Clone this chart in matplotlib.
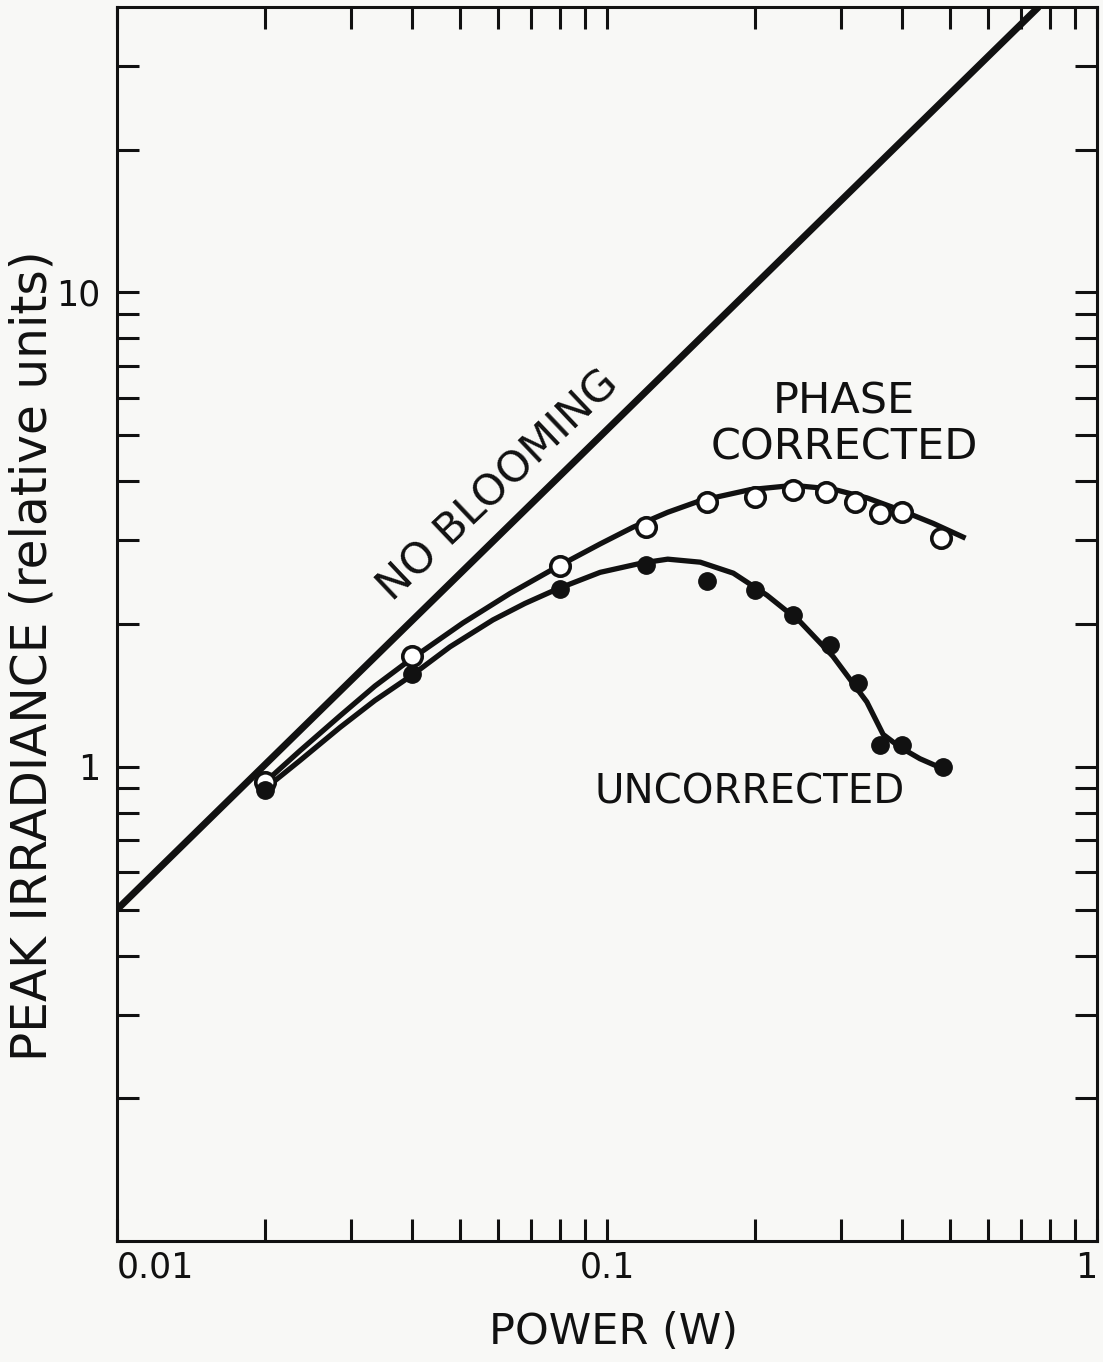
import numpy as np
import matplotlib.pyplot as plt
from matplotlib.ticker import FixedLocator, FixedFormatter, NullFormatter

plt.rcParams['font.family'] = ['DejaVu Sans']

ink = "#111111"
paper = "#f8f8f6"

# measured points (power in W, peak irradiance in relative units)
corr_power = [0.02, 0.04, 0.08, 0.12, 0.16, 0.20, 0.24, 0.28, 0.32, 0.36, 0.40, 0.48]
corr_irr = [0.93, 1.71, 2.65, 3.20, 3.61, 3.71, 3.83, 3.80, 3.62, 3.43, 3.45, 3.03]

uncorr_power = [0.02, 0.04, 0.08, 0.12, 0.16, 0.20, 0.24, 0.285, 0.325, 0.36, 0.40, 0.485]
uncorr_irr = [0.895, 1.57, 2.37, 2.66, 2.46, 2.36, 2.09, 1.81, 1.50, 1.11, 1.11, 1.00]

# hand drawn fit curves
corr_curve_power = [0.0198, 0.0236, 0.0285, 0.0336, 0.0396, 0.0508, 0.0634, 0.0791, 0.0968,
                    0.113, 0.133, 0.155, 0.196, 0.240, 0.289, 0.339, 0.396, 0.463, 0.533]
corr_curve_irr = [0.917, 1.08, 1.28, 1.48, 1.68, 2.01, 2.32, 2.64, 2.95,
                  3.20, 3.44, 3.64, 3.84, 3.92, 3.85, 3.69, 3.48, 3.26, 3.05]

uncorr_curve_power = [0.0198, 0.0236, 0.0285, 0.0336, 0.0400, 0.0478, 0.0585, 0.0680, 0.0791,
                      0.0968, 0.118, 0.133, 0.155, 0.181, 0.212, 0.248, 0.289, 0.339, 0.366,
                      0.396, 0.435, 0.485]
uncorr_curve_irr = [0.890, 1.03, 1.21, 1.38, 1.56, 1.79, 2.04, 2.21, 2.37,
                    2.57, 2.69, 2.74, 2.70, 2.56, 2.30, 2.02, 1.71, 1.37, 1.17,
                    1.10, 1.04, 0.99]

# no blooming reference line
nb_power = [0.01, 0.76]
nb_irr = [0.5, 40]

x_ticks = [0.01, 0.1, 1]
x_labels = ["0.01", "0.1", "1"]
y_ticks = [1, 10]
y_labels = ["1", "10"]

fig = plt.figure(figsize=(11.03, 13.62), dpi=100, facecolor=paper)
ax = fig.add_axes([0.1061, 0.0888, 0.8885, 0.9061], facecolor=paper)

ax.plot(nb_power, nb_irr, color=ink, lw=5, solid_capstyle="butt")
ax.plot(corr_curve_power, corr_curve_irr, color=ink, lw=3.8, solid_joinstyle="round")
ax.plot(uncorr_curve_power, uncorr_curve_irr, color=ink, lw=3.8, solid_joinstyle="round")
ax.plot(corr_power, corr_irr, "o", ms=14, mfc="white", mec=ink, mew=2.6, zorder=3)
ax.plot(uncorr_power, uncorr_irr, "o", ms=12.5, mfc=ink, mec=ink, zorder=4)

ax.set_xscale("log")
ax.set_yscale("log")
ax.set_xlim(0.01, 1)
ax.set_ylim(0.1, 40)

ax.xaxis.set_major_locator(FixedLocator(x_ticks))
ax.xaxis.set_major_formatter(FixedFormatter(x_labels))
ax.yaxis.set_major_locator(FixedLocator(y_ticks))
ax.yaxis.set_major_formatter(FixedFormatter(y_labels))
x_minor = [m * d for d in [0.01, 0.1] for m in range(2, 10)]
y_minor = [m * d for d in [0.1, 1] for m in range(2, 10)] + [20, 30]
ax.xaxis.set_minor_locator(FixedLocator(x_minor))
ax.yaxis.set_minor_locator(FixedLocator(y_minor))
ax.xaxis.set_minor_formatter(NullFormatter())
ax.yaxis.set_minor_formatter(NullFormatter())

ax.tick_params(which="both", direction="in", top=True, right=True,
               length=16, width=2.2, color=ink, labelcolor=ink, labelsize=25)
ax.tick_params(axis="x", pad=7)
ax.tick_params(axis="y", pad=12)
for s in ax.spines.values():
    s.set_linewidth(2.2)
    s.set_color(ink)

xl = ax.get_xticklabels()
xl[0].set_horizontalalignment("left")
xl[-1].set_horizontalalignment("right")

ax.text(0.0599, 3.92, "NO BLOOMING", rotation=43.5, fontsize=31, color=ink,
        ha="center", va="center", rotation_mode="anchor")
ax.text(0.3046, 5.27, "PHASE\nCORRECTED", fontsize=31, color=ink,
        ha="center", va="center", linespacing=1.1)
ax.text(0.195, 0.882, "UNCORRECTED", fontsize=29, color=ink, ha="center", va="center")

fig.text(0.0426, 0.5184, "PEAK IRRADIANCE (relative units)", rotation=90, fontsize=35,
         color=ink, ha="center", va="baseline", rotation_mode="anchor")
fig.text(0.556, 0.022, "POWER (W)", fontsize=31, color=ink, ha="center", va="center")

fig.savefig("out.png", dpi=100, facecolor=fig.get_facecolor())
